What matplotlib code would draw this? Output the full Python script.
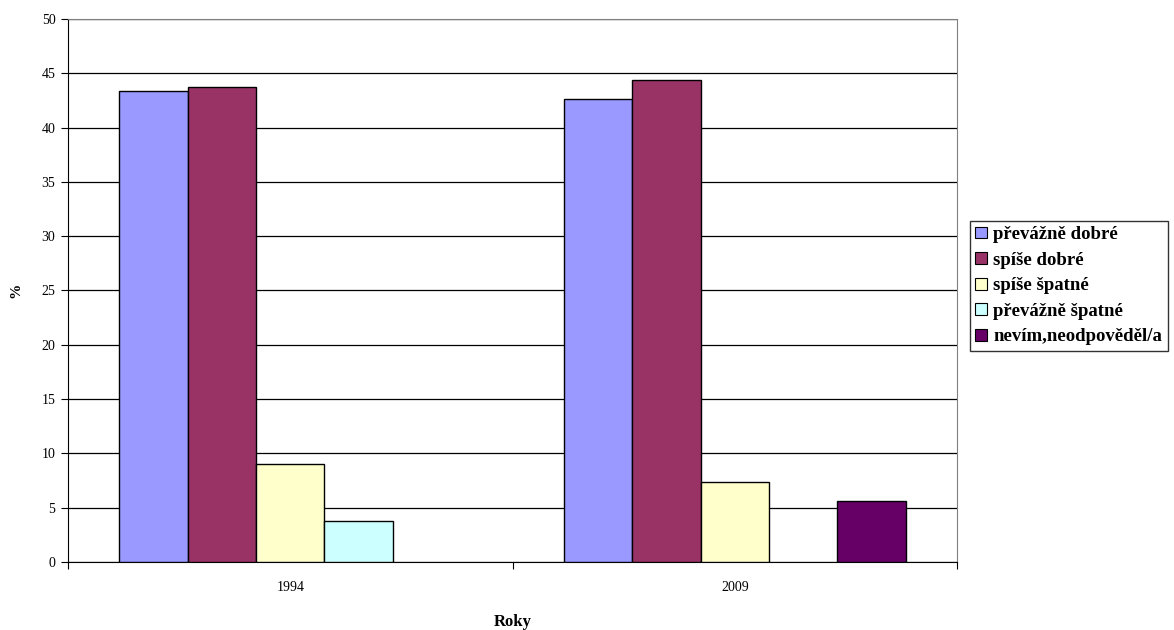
import matplotlib
matplotlib.use("Agg")
import matplotlib.pyplot as plt
import numpy as np

roky = ["1994", "2009"]
kategorie = ["převážně dobré", "spíše dobré", "spíše špatné",
             "převážně špatné", "nevím,neodpověděl/a"]
hodnoty = [
    [43.4, 42.6],  # převážně dobré
    [43.7, 44.4],  # spíše dobré
    [9.0, 7.4],    # spíše špatné
    [3.8, 0.0],    # převážně špatné
    [0.0, 5.6],    # nevím,neodpověděl/a
]
barvy = ["#9999FF", "#993366", "#FFFFCC", "#CCFFFF", "#660066"]

plt.rcParams["font.family"] = ["Liberation Serif", "DejaVu Serif"]

fig = plt.figure(figsize=(11.74, 6.3), dpi=100)
ax = fig.add_axes([0.0579, 0.108, 0.7573, 0.862])

x = np.arange(len(roky))
sirka = 0.154
for i, (nazev, vals) in enumerate(zip(kategorie, hodnoty)):
    pos = x + (i - 2) * sirka
    bars = ax.bar(pos, vals, width=sirka, color=barvy[i], edgecolor="black",
                  linewidth=1.0, label=nazev, zorder=3)
    # nulové sloupce bez obrysu
    for b, v in zip(bars, vals):
        if v == 0:
            b.set_visible(False)

ax.set_xlim(-0.5, 1.5)
ax.set_ylim(0, 50)
ax.set_yticks(range(0, 51, 5))
ax.yaxis.grid(True, color="black", linewidth=0.9, zorder=0)
ax.set_axisbelow(True)

# popisky let uprostřed kategorií, značky na hranicích
ax.set_xticks([-0.5, 0.5, 1.5])
ax.set_xticklabels([])
ax.set_xticks(x, minor=True)
ax.set_xticklabels(roky, minor=True)
ax.tick_params(axis="x", which="minor", length=0, pad=14, labelsize=10)
ax.tick_params(axis="x", which="major", length=5, direction="out")
ax.tick_params(axis="y", length=5, direction="out", labelsize=10, pad=4)

for s in ["top", "right"]:
    ax.spines[s].set_color("#808080")
ax.spines["left"].set_color("black")
ax.spines["bottom"].set_color("black")

ax.set_ylabel("%", fontsize=11, fontweight="bold", labelpad=14)
ax.set_xlabel("Roky", fontsize=12, fontweight="bold", labelpad=14)

leg = fig.legend(loc="upper left", bbox_to_anchor=(0.826, 0.650),
                 frameon=True, fancybox=False, edgecolor="black",
                 prop={"weight": "bold", "size": 13.5},
                 handlelength=0.6, handleheight=0.6, handletextpad=0.35,
                 labelspacing=0.455, borderpad=0.3, borderaxespad=0)
leg.get_frame().set_linewidth(1.0)
for h in leg.legend_handles:
    h.set_visible(True)
    h.set_edgecolor("black")
    h.set_linewidth(0.8)

fig.savefig("out.png", dpi=100)
